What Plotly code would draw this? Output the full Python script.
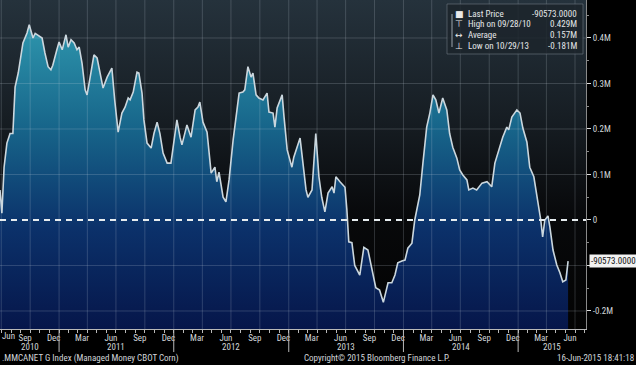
import base64
import pandas as pd
import plotly.graph_objects as go

# ---------------- data ----------------
DATES = [
    "2010-06-27", "2010-07-03", "2010-07-10", "2010-07-19", "2010-07-29", "2010-08-07", "2010-08-14",
    "2010-08-24", "2010-09-08", "2010-09-21", "2010-09-28", "2010-10-10", "2010-10-17", "2010-10-26",
    "2010-11-08", "2010-11-17", "2010-11-27", "2010-12-06", "2010-12-12", "2010-12-25",
    "2011-01-01", "2011-01-11", "2011-01-23", "2011-01-30", "2011-02-08", "2011-02-18", "2011-02-27",
    "2011-03-06", "2011-03-15", "2011-03-25", "2011-03-31", "2011-04-10", "2011-04-22", "2011-05-02",
    "2011-05-11", "2011-05-21", "2011-06-03", "2011-06-09", "2011-06-18", "2011-06-27", "2011-07-08",
    "2011-07-20", "2011-07-30", "2011-08-09", "2011-08-15", "2011-08-25", "2011-08-31", "2011-09-06",
    "2011-09-12", "2011-09-22", "2011-09-28", "2011-10-08", "2011-10-21", "2011-10-30", "2011-11-09",
    "2011-11-18", "2011-11-28", "2011-12-11", "2011-12-23",
    "2012-01-02", "2012-01-11", "2012-01-21", "2012-01-27", "2012-02-12", "2012-02-25", "2012-03-09",
    "2012-03-18", "2012-03-24", "2012-04-03", "2012-04-16", "2012-04-29", "2012-05-11", "2012-05-17",
    "2012-05-24", "2012-06-06", "2012-06-15", "2012-06-25", "2012-07-08", "2012-07-20", "2012-07-27",
    "2012-08-08", "2012-08-14", "2012-08-24", "2012-09-03", "2012-09-09", "2012-09-19", "2012-09-28",
    "2012-10-11", "2012-10-24", "2012-10-30", "2012-11-12", "2012-11-18", "2012-11-25", "2012-12-11",
    "2012-12-17", "2012-12-27",
    "2013-01-11", "2013-01-17", "2013-02-06", "2013-02-15", "2013-02-25", "2013-03-03", "2013-03-16",
    "2013-03-28", "2013-04-07", "2013-04-16", "2013-04-26", "2013-05-06", "2013-05-19", "2013-05-25",
    "2013-05-31", "2013-06-13", "2013-06-29", "2013-07-05", "2013-07-11", "2013-07-21", "2013-07-30",
    "2013-08-15", "2013-08-28", "2013-09-10", "2013-09-22", "2013-10-05", "2013-10-17", "2013-10-29",
    "2013-11-13", "2013-11-25", "2013-12-05", "2013-12-14", "2013-12-27",
    "2014-01-06", "2014-01-15", "2014-01-28", "2014-02-06", "2014-02-16", "2014-02-22", "2014-03-04",
    "2014-03-16", "2014-03-26", "2014-04-05", "2014-04-14", "2014-04-24", "2014-05-06", "2014-05-19",
    "2014-05-28", "2014-06-07", "2014-06-20", "2014-06-29", "2014-07-09", "2014-07-22", "2014-07-28",
    "2014-08-10", "2014-08-22", "2014-09-08", "2014-09-24", "2014-10-09", "2014-10-19", "2014-11-04",
    "2014-11-13", "2014-11-26", "2014-12-02", "2014-12-12", "2014-12-28",
    "2015-01-07", "2015-01-16", "2015-01-29", "2015-02-07", "2015-02-20", "2015-03-05", "2015-03-14",
    "2015-03-20", "2015-03-27", "2015-04-06", "2015-04-12", "2015-04-22", "2015-05-04", "2015-05-14",
    "2015-05-23", "2015-06-02", "2015-06-09",
]

# net position, thousands of contracts
NET_K = [
    66, 15, 116, 169, 190, 190, 292, 323, 389, 411, 429, 400, 410, 406, 400, 367, 337, 330, 340, 374,
    391, 374, 407, 380, 396, 389, 374, 380, 345, 286, 275, 314, 363, 356, 323, 290, 314, 323, 334, 264,
    193, 235, 248, 268, 264, 281, 301, 325, 323, 279, 220, 169, 158, 190, 215, 190, 147, 125, 125,
    176, 220, 182, 165, 209, 182, 242, 248, 259, 215, 193, 103, 116, 84, 105, 50, 40, 88, 176, 242, 279,
    281, 286, 337, 314, 323, 275, 268, 264, 279, 237, 235, 204, 246, 275, 226, 154,
    116, 138, 180, 125, 66, 50, 66, 190, 95, 50, 18, 59, 73, 59, 95, 84, 72, 22, -48, -50, -100,
    -121, -60, -66, -105, -149, -154, -181, -138, -138, -121, -94, -90,
    -88, -62, -51, 0, 40, 55, 125, 204, 235, 275, 264, 235, 268, 242, 190, 160, 136, 110, 99, 88, 66,
    70, 66, 81, 84, 73, 125, 160, 182, 204, 198, 226, 242,
    235, 202, 171, 116, 95, 44, 0, -37, 0, 9, -15, -66, -99, -116, -136, -132, -90.573,
]

MONTH_LABELS = {3: "Mar", 6: "Jun", 9: "Sep", 12: "Dec"}
YEARS = [2010, 2011, 2012, 2013, 2014, 2015]
Y_TICKS = [-200000, -100000, 0, 100000, 200000, 300000, 400000]
# the -0.1M label is hidden behind the last-price tag in the reference
Y_TICK_TEXT = ["-0.2M", "", "0", "0.1M", "0.2M", "0.3M", "0.4M"]

LAST_PRICE = "-90573.0000"
LEGEND_ROWS = [
    ("\u25A0", "Last Price", "-90573.0000"),
    ("\u22A4", "High on 09/28/10", "0.429M"),
    ("\u2194", "Average", "0.157M"),
    ("\u22A5", "Low on 10/29/13", "-0.181M"),
]
FOOT_LEFT = ".MMCANET G Index (Managed Money CBOT Corn)"
FOOT_MID = "Copyright\u00a9 2015 Bloomberg Finance L.P."
FOOT_RIGHT = "16-Jun-2015 18:41:18"

# ---------------- figure ----------------
values = [v * 1000 for v in NET_K]
Y_MIN, Y_MAX = -239600, 483500
X_MIN, X_MAX = "2010-06-27", "2015-08-05"
FONT = "Liberation Sans Narrow, Arial Narrow, Roboto Condensed, Liberation Sans, sans-serif"
TXT = "#d2d6da"

fig = go.Figure()
fig.add_trace(go.Scatter(x=DATES, y=[Y_MIN] * len(DATES), mode="lines", line=dict(width=0),
                         hoverinfo="skip", showlegend=False))
fig.add_trace(go.Scatter(
    x=DATES, y=values, mode="lines", fill="tonexty",
    line=dict(color="#cbd7de", width=1.6),
    fillgradient=dict(type="vertical", start=Y_MIN, stop=430000,
                      colorscale=[[0, "#06164a"], [0.33, "#0b316a"], [0.66, "#17658a"], [1, "#2e96ad"]]),
    showlegend=False, hoverinfo="skip"))

# background gradient for the plot area
svg = ('<svg xmlns="http://www.w3.org/2000/svg" width="10" height="100" viewBox="0 0 10 100" '
       'preserveAspectRatio="none"><defs><linearGradient id="g" x1="0" y1="0" x2="0" y2="1">'
       '<stop offset="0" stop-color="#25323c"/><stop offset="0.35" stop-color="#171e24"/>'
       '<stop offset="0.65" stop-color="#08090b"/><stop offset="1" stop-color="#030303"/>'
       '</linearGradient></defs><rect width="10" height="100" fill="url(#g)"/></svg>')
src = "data:image/svg+xml;base64," + base64.b64encode(svg.encode()).decode()

shapes = []
grid = "rgba(205,215,225,0.20)"
for d in pd.date_range("2010-07-01", "2015-07-01", freq="QS"):
    shapes.append(dict(type="line", xref="x", yref="paper", x0=d, x1=d, y0=0, y1=1,
                       line=dict(color=grid, width=1), layer="above"))
for v in Y_TICKS:
    if v != 0:
        shapes.append(dict(type="line", xref="paper", yref="y", x0=0, x1=1, y0=v, y1=v,
                           line=dict(color=grid, width=1), layer="above"))
shapes.append(dict(type="line", xref="paper", yref="y", x0=0, x1=1, y0=0, y1=0,
                   line=dict(color="#e6ecef", width=2, dash="6px,5px"), layer="above"))
for y in YEARS[1:]:
    d = f"{y}-01-01"
    shapes.append(dict(type="line", xref="x", yref="paper", x0=d, x1=d, y0=0, y1=-0.07,
                       line=dict(color="#b8b8b8", width=1)))
# legend box
shapes.append(dict(type="rect", xref="paper", yref="paper", x0=447 / 586, x1=583 / 586,
                   y0=1 - 54 / 329, y1=1 - 4 / 329, fillcolor="rgba(28,36,43,0.85)",
                   line=dict(color="rgba(110,120,130,0.6)", width=1), layer="above"))
shapes.append(dict(type="line", xref="paper", yref="paper", x0=452 / 586, x1=452 / 586,
                   y0=1 - 47 / 329, y1=1 - 14 / 329, line=dict(color="#9aa4ac", width=1), layer="above"))

# x tick labels (mid-month)
tickvals, ticktext = [], []
for y in YEARS:
    for m, lab in MONTH_LABELS.items():
        d = pd.Timestamp(f"{y}-{m:02d}-15")
        if pd.Timestamp(X_MIN) <= d <= pd.Timestamp(X_MAX):
            tickvals.append(d)
            ticktext.append(lab)

ann = []
ann.append(dict(xref="paper", yref="paper", x=0, y=-7 / 329, xanchor="left", yanchor="middle",
                text="Jun", showarrow=False, font=dict(size=9, color=TXT, family=FONT)))
for y in YEARS:
    a = max(pd.Timestamp(f"{y}-01-01"), pd.Timestamp(X_MIN))
    b = min(pd.Timestamp(f"{y + 1}-01-01"), pd.Timestamp(X_MAX))
    ann.append(dict(xref="x", yref="paper", x=a + (b - a) / 2, y=-18 / 329, yanchor="middle",
                    text=str(y), showarrow=False, font=dict(size=9, color=TXT, family=FONT)))
rows_y = [14, 24, 35, 46]
for (icon, lab, val), ry in zip(LEGEND_ROWS, rows_y):
    yy = 1 - ry / 329
    ann.append(dict(xref="paper", yref="paper", x=459 / 586, y=yy, xanchor="center", yanchor="middle",
                    text=icon, showarrow=False, font=dict(size=9, color="#e8e8e8", family="DejaVu Sans")))
    ann.append(dict(xref="paper", yref="paper", x=466 / 586, y=yy, xanchor="left", yanchor="middle",
                    text=lab, showarrow=False, font=dict(size=9, color="#e4e6e8", family=FONT)))
    ann.append(dict(xref="paper", yref="paper", x=579 / 586, y=yy, xanchor="right", yanchor="middle",
                    text=val, showarrow=False, font=dict(size=9, color="#e4e6e8", family=FONT)))
ann.append(dict(xref="paper", yref="y", x=1, xshift=3, y=values[-1], xanchor="left", yanchor="middle",
                text=LAST_PRICE, showarrow=False, bgcolor="#f2f2f2", borderpad=1,
                font=dict(size=9, color="#111111", family=FONT)))
fy = -29 / 329
ann.append(dict(xref="paper", yref="paper", x=0, y=fy, xanchor="left", yanchor="middle", text=FOOT_LEFT,
                showarrow=False, font=dict(size=9, color=TXT, family=FONT)))
ann.append(dict(xref="paper", yref="paper", x=302 / 586, y=fy, xanchor="left", yanchor="middle",
                text=FOOT_MID, showarrow=False, font=dict(size=9, color=TXT, family=FONT)))
ann.append(dict(xref="paper", yref="paper", x=636 / 586, y=fy, xanchor="right", yanchor="middle",
                text=FOOT_RIGHT, showarrow=False, font=dict(size=9, color=TXT, family=FONT)))

fig.update_layout(
    width=636, height=365, margin=dict(l=0, r=50, t=0, b=36),
    paper_bgcolor="#000000", plot_bgcolor="rgba(0,0,0,0)",
    showlegend=False, shapes=shapes, annotations=ann,
    images=[dict(source=src, xref="paper", yref="paper", x=0, y=1, sizex=1, sizey=1,
                 xanchor="left", yanchor="top", sizing="stretch", layer="below")],
    xaxis=dict(type="date", range=[X_MIN, X_MAX], tickmode="array", tickvals=tickvals, ticktext=ticktext,
               ticks="", showgrid=False, zeroline=False, showline=True, linecolor="#b8b8b8",
               tickfont=dict(size=9, color=TXT, family=FONT),
               minor=dict(ticks="outside", ticklen=3, tickcolor="#b8b8b8", dtick="M1",
                          tick0="2010-07-01", showgrid=False)),
    yaxis=dict(side="right", range=[Y_MIN, Y_MAX], tickmode="array", tickvals=Y_TICKS,
               ticktext=Y_TICK_TEXT, ticks="outside", ticklen=4, tickcolor="#e0e0e0",
               showgrid=False, zeroline=False, showline=True, linecolor="#8a8a8a",
               tickfont=dict(size=9, color=TXT, family=FONT),
               minor=dict(ticks="outside", ticklen=2, tickcolor="#8a8a8a", dtick=50000,
                          tick0=0, showgrid=False)),
)

fig.write_html("out.html")
